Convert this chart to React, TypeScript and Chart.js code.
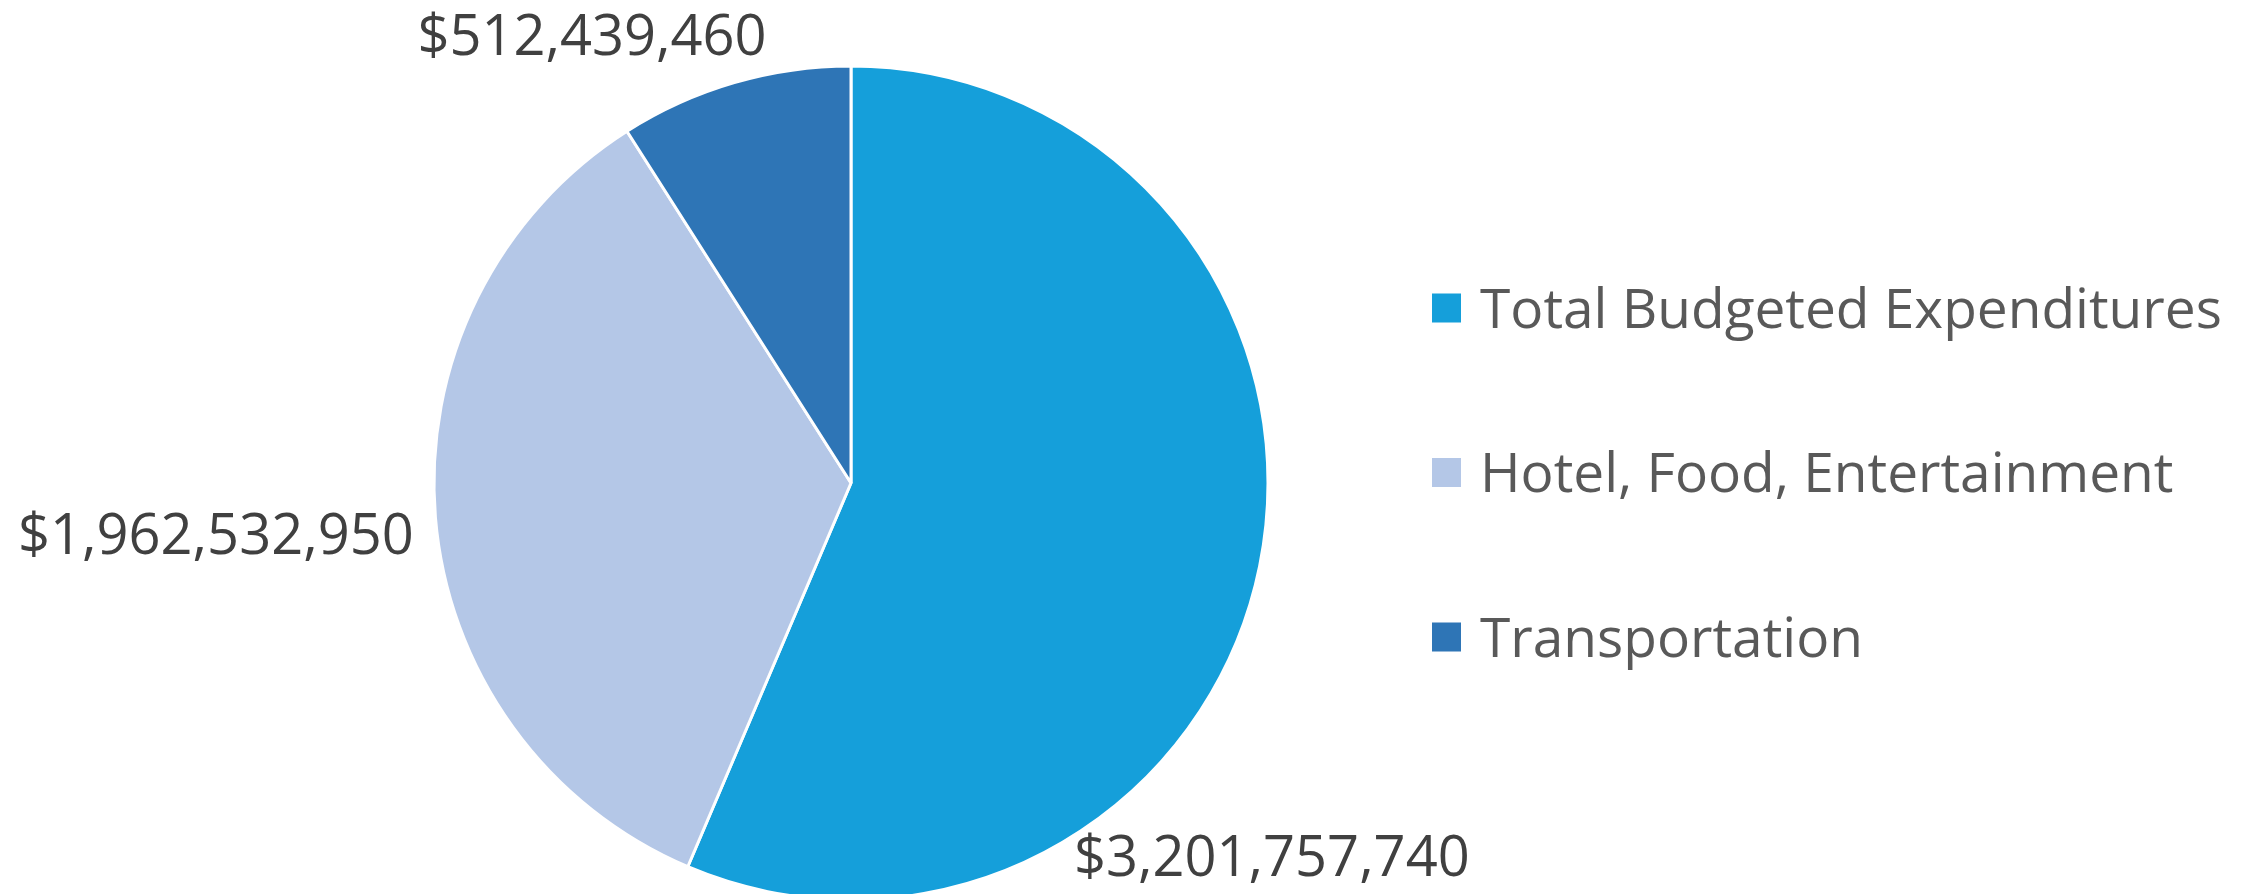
import React, { useEffect, useRef } from "react";
import { Chart, registerables } from "chart.js";

Chart.register(...registerables);

// ---- data ----
const categories: string[] = [
  "Total Budgeted Expenditures",
  "Hotel, Food, Entertainment",
  "Transportation",
];
const amounts: number[] = [3201757740, 1962532950, 512439460];

// ---- styles ----
const sliceColors: string[] = ["#159FDA", "#B4C7E7", "#2E75B6"];
// where each value label sits: fraction along its slice's arc, and distance (x radius)
const labelArcFraction: number[] = [0.648, 0.501, 0.076];
const labelDistance: number[] = [1.349, 1.528, 1.241];

const FONT = "'Open Sans', 'Noto Sans', sans-serif";
const LABEL_SIZE = 56;
const LEGEND_SIZE = 55;

const W = 2253;
const H = 894;
const CX = 851;
const CY = 483;
const RADIUS = 417;

const fmt = (v: number) => "$" + v.toLocaleString("en-US");

const valueLabels = {
  id: "valueLabels",
  afterDatasetsDraw(chart: any) {
    const meta = chart.getDatasetMeta(0);
    const ctx = chart.ctx as CanvasRenderingContext2D;
    ctx.save();
    ctx.font = `${LABEL_SIZE}px ${FONT}`;
    ctx.fillStyle = "#404040";
    ctx.textAlign = "center";
    ctx.textBaseline = "alphabetic";
    meta.data.forEach((arc: any, i: number) => {
      const p = arc.getProps(["x", "y", "startAngle", "endAngle", "outerRadius"], true);
      const a = p.startAngle + (p.endAngle - p.startAngle) * labelArcFraction[i];
      const d = p.outerRadius * labelDistance[i];
      const lx = p.x + Math.cos(a) * d;
      const ly = p.y + Math.sin(a) * d;
      ctx.fillText(fmt(chart.data.datasets[0].data[i]), lx, ly + LABEL_SIZE * 0.357);
    });
    ctx.restore();
  },
};

const LEGEND_X = 1432;
const LEGEND_Y0 = 308;
const LEGEND_STEP = 164.5;
const LEGEND_BOX = 29;

const sideLegend = {
  id: "sideLegend",
  afterDraw(chart: any) {
    const ctx = chart.ctx as CanvasRenderingContext2D;
    const labels: string[] = chart.data.labels;
    const colors: string[] = chart.data.datasets[0].backgroundColor;
    ctx.save();
    ctx.font = `${LEGEND_SIZE}px ${FONT}`;
    ctx.textAlign = "left";
    ctx.textBaseline = "alphabetic";
    labels.forEach((lab, i) => {
      const cy = LEGEND_Y0 + i * LEGEND_STEP;
      ctx.fillStyle = colors[i];
      ctx.fillRect(LEGEND_X, cy - LEGEND_BOX / 2, LEGEND_BOX, LEGEND_BOX);
      ctx.fillStyle = "#595959";
      ctx.fillText(lab, LEGEND_X + 48, cy + LEGEND_SIZE * 0.357);
    });
    ctx.restore();
  },
};

export default function App() {
  const ref = useRef<HTMLCanvasElement | null>(null);

  useEffect(() => {
    document.body.style.margin = "0";
    document.body.style.overflow = "hidden";
    if (!ref.current) return;
    const chart = new Chart(ref.current, {
      type: "pie",
      data: {
        labels: categories,
        datasets: [
          {
            data: amounts,
            backgroundColor: sliceColors,
            borderColor: "#FFFFFF",
            borderWidth: 3,
            clip: false as any,
          },
        ],
      },
      options: {
        animation: false,
        responsive: true,
        maintainAspectRatio: false,
        events: [],
        radius: RADIUS,
        rotation: 0,
        layout: {
          padding: {
            left: 0,
            right: W - 2 * CX,
            top: 2 * CY - H,
            bottom: 0,
          },
        },
        plugins: {
          legend: { display: false },
          tooltip: { enabled: false },
          title: { display: false },
        },
      } as any,
      plugins: [valueLabels, sideLegend],
    });
    return () => chart.destroy();
  }, []);

  return (
    <div style={{ position: "fixed", left: 0, top: 0, width: W, height: H, background: "#fff" }}>
      <canvas ref={ref} />
    </div>
  );
}
